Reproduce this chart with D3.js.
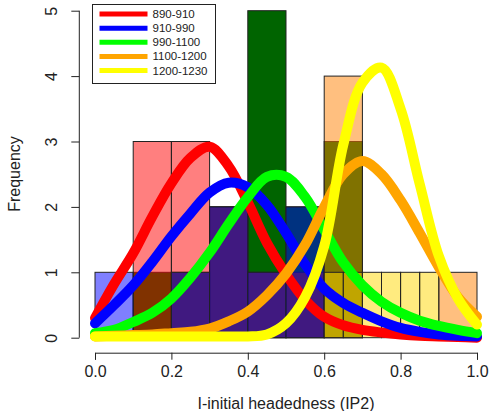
<!DOCTYPE html>
<html><head><meta charset="utf-8">
<script src="https://cdn.jsdelivr.net/npm/d3@7"></script>
<style>
body{margin:0;background:#fff;}
svg{display:block;font-family:"Liberation Sans",Arial,sans-serif;}
</style></head>
<body><svg id="c" width="489" height="411"></svg>
<script>
// ---- data ----
const groups = ["890-910", "910-990", "990-1100", "1100-1200", "1200-1230"];
const lineColors = ["#ff0000", "#0000ff", "#00ff00", "#ffa500", "#ffff00"];
// histogram counts (bins of width 0.1 from 0.0 to 1.0)
const bins10 = [0.0, 0.1, 0.2, 0.3, 0.4, 0.5, 0.6, 0.7, 0.8, 0.9];
const histGreen  = [0, 1, 1, 2, 5, 2, 3, 0, 0, 0];
const histRed    = [0, 3, 3, 2, 1, 1, 0, 0, 0, 0];
const histBlue   = [1, 0, 1, 2, 1, 2, 0, 0, 0, 0];
const histOrange = [0, 0, 0, 0, 0, 0, 4, 0, 0, 1];
// yellow group histogram uses bins of width 0.05
const bins05 = [0.6, 0.65, 0.7, 0.75, 0.8, 0.85];
const histYellow = [1, 1, 1, 1, 1, 1];
const histFills = ["rgba(255,0,0,0.5)", "rgba(0,0,255,0.5)", "rgb(0,100,0)", "rgba(255,128,0,0.5)", "rgba(255,215,0,0.5)"];
// density curves (scaled to counts), sampled at xs
const xs = [0, 0.05, 0.1, 0.15, 0.2, 0.25, 0.3, 0.35, 0.4, 0.45, 0.5, 0.55, 0.6, 0.65, 0.7, 0.75, 0.8, 0.85, 0.9, 0.95, 1.0];
const densRed    = [0.30, 0.82, 1.29, 1.85, 2.36, 2.75, 2.92, 2.62, 2.07, 1.45, 0.97, 0.58, 0.32, 0.19, 0.12, 0.08, 0.05, 0.03, 0.02, 0.01, 0.00];
const densBlue   = [0.22, 0.50, 0.80, 1.16, 1.55, 1.90, 2.22, 2.37, 2.30, 2.03, 1.60, 1.12, 0.75, 0.53, 0.38, 0.25, 0.15, 0.09, 0.05, 0.03, 0.02];
const densGreen  = [0.07, 0.12, 0.24, 0.38, 0.60, 0.92, 1.30, 1.74, 2.15, 2.46, 2.46, 2.15, 1.65, 1.15, 0.80, 0.55, 0.38, 0.26, 0.18, 0.12, 0.07];
const densOrange = [0.02, 0.03, 0.04, 0.05, 0.07, 0.09, 0.14, 0.25, 0.40, 0.65, 0.98, 1.42, 2.00, 2.50, 2.70, 2.50, 2.10, 1.60, 1.08, 0.62, 0.32];
const densYellow = [0.02, 0.02, 0.02, 0.02, 0.02, 0.02, 0.02, 0.02, 0.02, 0.05, 0.22, 0.62, 1.40, 2.95, 3.90, 4.13, 3.50, 2.35, 1.25, 0.60, 0.20];
const xTicks = [0, 0.2, 0.4, 0.6, 0.8, 1.0];
const yTicks = [0, 1, 2, 3, 4, 5];

// ---- chart ----
const svg = d3.select("#c");
const x = d3.scaleLinear().domain([0, 1]).range([95, 477]);
const y = d3.scaleLinear().domain([0, 5]).range([337.7, 10.7]);

function drawHist(starts, counts, width, fill) {
  svg.append("g").selectAll("rect")
    .data(starts.map((s, i) => ({s, c: counts[i]})).filter(d => d.c > 0))
    .join("rect")
    .attr("x", d => x(d.s))
    .attr("y", d => y(d.c))
    .attr("width", d => x(d.s + width) - x(d.s))
    .attr("height", d => y(0) - y(d.c))
    .attr("fill", fill)
    .attr("stroke", "#222")
    .attr("stroke-width", 1);
}
drawHist(bins10, histGreen, 0.1, histFills[2]);
drawHist(bins10, histRed, 0.1, histFills[0]);
drawHist(bins10, histBlue, 0.1, histFills[1]);
drawHist(bins10, histOrange, 0.1, histFills[3]);
drawHist(bins05, histYellow, 0.05, histFills[4]);

const line = d3.line().x((d, i) => x(xs[i])).y(d => y(d)).curve(d3.curveCatmullRom.alpha(0.5));
[densRed, densBlue, densGreen, densOrange, densYellow].forEach((dens, k) => {
  svg.append("path").attr("d", line(dens))
    .attr("fill", "none").attr("stroke", lineColors[k])
    .attr("stroke-width", 10).attr("stroke-linecap", "round").attr("stroke-linejoin", "round");
});

// axes (R style)
const xAxis = svg.append("g").attr("transform", "translate(0,352.7)")
  .call(d3.axisBottom(x).tickValues(xTicks).tickFormat(d3.format(".1f")).tickSize(7).tickPadding(6));
xAxis.select(".domain").attr("stroke", "#222");
xAxis.selectAll("line").attr("stroke", "#222");
xAxis.selectAll("text").attr("font-size", 16).attr("fill", "#222")
  .attr("font-family", "Liberation Sans, Arial, sans-serif");

const yAxis = svg.append("g").attr("transform", "translate(79.3,0)")
  .call(d3.axisLeft(y).tickValues(yTicks).tickFormat(d3.format("d")).tickSize(8).tickSizeOuter(0));
yAxis.select(".domain").attr("stroke", "#222").attr("d", `M0,${y(0)}V${y(5)}`);
yAxis.selectAll("line").attr("stroke", "#222");
yAxis.selectAll("text").remove();
yAxis.selectAll(".tick").append("text")
  .attr("transform", "translate(-22,0) rotate(-90)")
  .attr("text-anchor", "middle").attr("font-size", 16).attr("fill", "#222")
  .attr("font-family", "Liberation Sans, Arial, sans-serif")
  .text(d => d3.format("d")(d));

svg.append("text").attr("x", 286).attr("y", 409).attr("text-anchor", "middle")
  .attr("font-size", 16).attr("fill", "#222").text("I-initial headedness (IP2)");
svg.append("text").attr("transform", "translate(20,174) rotate(-90)").attr("text-anchor", "middle")
  .attr("font-size", 16).attr("fill", "#222").text("Frequency");

// legend
const lg = svg.append("g");
lg.append("rect").attr("x", 92.5).attr("y", 4.5).attr("width", 123).attr("height", 79)
  .attr("fill", "#fff").attr("stroke", "#222").attr("stroke-width", 1);
groups.forEach((g, i) => {
  const yy = 14 + i * 14.15;
  lg.append("line").attr("x1", 99.5).attr("x2", 147.5).attr("y1", yy).attr("y2", yy)
    .attr("stroke", lineColors[i]).attr("stroke-width", 5);
  lg.append("text").attr("x", 152.5).attr("y", yy + 4).attr("font-size", 11.5).attr("fill", "#222").text(g);
});
</script></body></html>
